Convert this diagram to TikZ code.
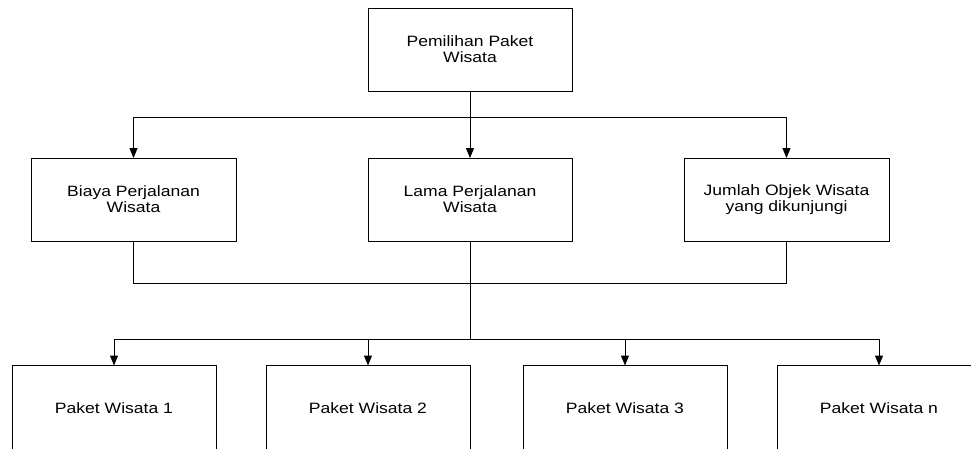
\documentclass[tikz,border=0pt]{standalone}
\usepackage{fontspec}
\setmainfont{Liberation Sans}[FakeStretch=1.17]
\usetikzlibrary{arrows.meta}
\begin{document}
\begin{tikzpicture}[x=1pt,y=-1pt,
  box/.style={draw=black, line width=1pt, minimum width=204pt, minimum height=83pt,
    inner sep=0pt, outer sep=0pt, align=center,
    font=\fontsize{15}{16}\selectfont},
  leaf/.style={box, minimum height=85pt},
  link/.style={draw=black, line width=1pt},
  arr/.style={link, -{Triangle[width=8pt,length=10pt]}}]
  \useasboundingbox (0,0) rectangle (971,448);
  \begin{scope}
  \clip (0,0) rectangle (971,448);
  % top level
  \node[box] (top) at (470,49.5) {Pemilihan Paket\\Wisata};
  % criteria
  \node[box, minimum width=205pt] (m1) at (133.5,199.5) {Biaya Perjalanan\\Wisata};
  \node[box] (m2) at (470,199.5) {Lama Perjalanan\\Wisata};
  \node[box, minimum width=205pt] (m3) at (786.5,199.5) {Jumlah Objek Wisata\\yang dikunjungi};
  % alternatives (lower edge runs past the page)
  \node[leaf] (b1) at (114,408) {Paket Wisata 1};
  \node[leaf] (b2) at (368,408) {Paket Wisata 2};
  \node[leaf] (b3) at (625,408) {Paket Wisata 3};
  \node[leaf] (b4) at (879,408) {Paket Wisata n};
  % junction points
  \coordinate (j1) at (470,117);
  \coordinate (j2) at (470,283);
  \coordinate (j3) at (470,339);
  % top to criteria
  \draw[link] (top.south) -- (j1);
  \draw[arr] (j1) -| (m1.north);
  \draw[arr] (j1) -- (m2.north);
  \draw[arr] (j1) -| (m3.north);
  % criteria merge
  \draw[link] (m1.south) |- (j2);
  \draw[link] (m3.south) |- (j2);
  \draw[link] (m2.south) -- (j3);
  % to alternatives
  \draw[arr] (j3) -| (b1.north);
  \draw[arr] (j3) -| (b2.north);
  \draw[arr] (j3) -| (b3.north);
  \draw[arr] (j3) -| (b4.north);
  \end{scope}
\end{tikzpicture}
\end{document}
